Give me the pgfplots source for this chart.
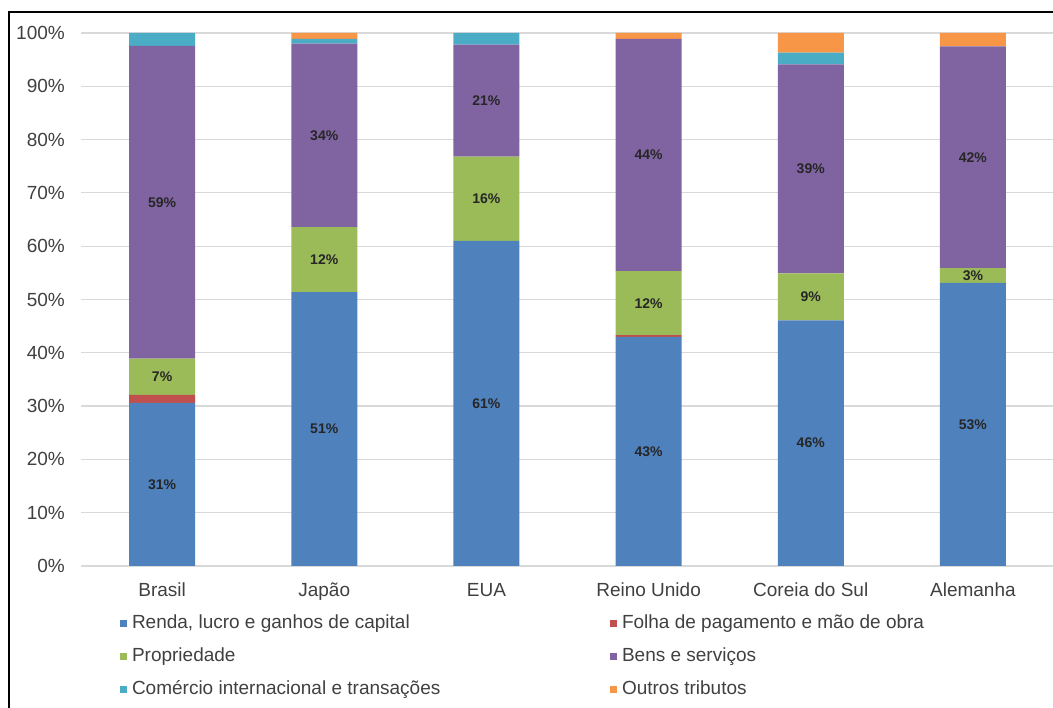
\documentclass[border=0pt]{standalone}
\usepackage{fontspec}
\setmainfont{Liberation Sans}
\usepackage{pgfplots}
\pgfplotsset{compat=1.18}
\usepackage{pgfplotstable}
\definecolor{cRenda}{HTML}{4F81BD}
\definecolor{cFolha}{HTML}{C0504D}
\definecolor{cProp}{HTML}{9BBB59}
\definecolor{cBens}{HTML}{8064A2}
\definecolor{cCom}{HTML}{4BACC6}
\definecolor{cOut}{HTML}{F79646}
\definecolor{txt}{HTML}{404040}
\pgfplotstableread{
x renda folha prop bens com out
0 30.6 1.5 6.8 58.7 2.4 0
1 51.4 0   12.2 34.4 0.9 1.1
2 61.0 0   15.8 21.0 2.2 0
3 43.0 0.3 12.0 43.6 0   1.1
4 46.1 0   8.8  39.2 2.2 3.7
5 53.1 0   2.8  41.6 0   2.5
}\data
\begin{document}
\begin{tikzpicture}
\useasboundingbox (0,0) rectangle (1053pt,708pt);
\draw[line width=1.8pt, black] (9pt,0pt) -- (9pt,696pt) -- (1060pt,696pt);
\begin{axis}[
  at={(81pt,142pt)}, anchor=south west,
  scale only axis, width=973pt, height=533pt,
  ybar stacked, bar width=66pt,
  xmin=-0.5, xmax=5.5, ymin=0, ymax=100,
  xtick={0,...,5},
  xticklabels={Brasil,Japão,EUA,Reino Unido,Coreia do Sul,Alemanha},
  ytick={0,10,...,100},
  yticklabel={\pgfmathprintnumber{\tick}\%},
  /pgf/number format/assume math mode=true,
  axis line style={draw=none},
  tick style={draw=none},
  major tick length=0pt,
  ymajorgrids, grid style={black!15, line width=1.2pt},
  tick label style={font=\fontsize{19}{22}\selectfont, text=txt},
  y tick label style={anchor=east, inner sep=0pt, xshift=-16pt},
  x tick label style={anchor=base, inner sep=0pt, yshift=-31pt},
  clip=false,
  legend columns=2,
  legend style={at={(0.0401,-0.0901)}, anchor=north west, draw=none,
    fill=none, inner sep=0pt, outer sep=0pt,
    font=\fontsize{19}{22}\selectfont, text=txt,
    nodes={inner sep=0pt, text height=14pt, text depth=4pt},
    row sep=15pt,
    /tikz/every odd column/.append style={column sep=5pt}},
  legend cell align=left,
  legend image code/.code={\fill[#1] (0pt,-3.5pt) rectangle (7pt,3.5pt);},
  visualization depends on={rawy \as \rawy},
  lbl/.style={nodes near coords={\pgfmathprintnumber[fixed,precision=0]{\rawy}\%},
    every node near coord/.append style={font=\fontsize{14}{16}\selectfont\bfseries,
      text=black!85, anchor=center}},
]
\addplot[fill=cRenda, draw=none, lbl] table[x=x, y=renda] {\data};
\addlegendentry{\makebox[478pt][l]{Renda, lucro e ganhos de capital}}
\addplot[fill=cFolha, draw=none] table[x=x, y=folha] {\data};
\addlegendentry{Folha de pagamento e mão de obra}
\addplot[fill=cProp, draw=none, lbl] table[x=x, y=prop] {\data};
\addlegendentry{\makebox[478pt][l]{Propriedade}}
\addplot[fill=cBens, draw=none, lbl] table[x=x, y=bens] {\data};
\addlegendentry{Bens e serviços}
\addplot[fill=cCom, draw=none] table[x=x, y=com] {\data};
\addlegendentry{\makebox[478pt][l]{Comércio internacional e transações}}
\addplot[fill=cOut, draw=none] table[x=x, y=out] {\data};
\addlegendentry{Outros tributos}
\end{axis}
\end{tikzpicture}
\end{document}
